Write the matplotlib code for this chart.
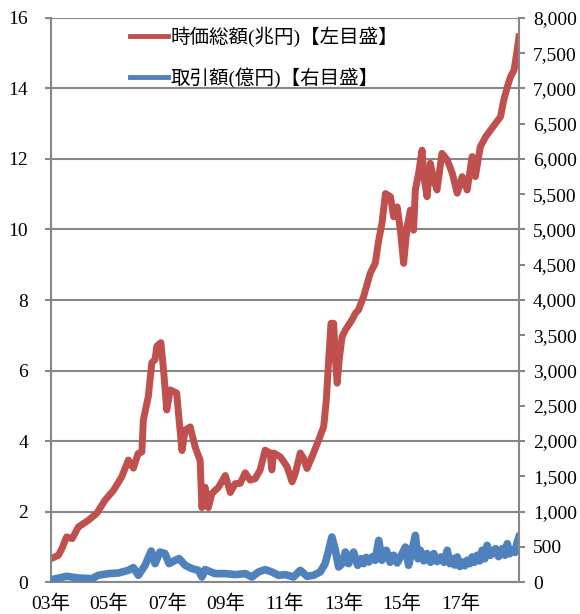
import matplotlib
matplotlib.use("Agg")
import matplotlib.pyplot as plt
from matplotlib.lines import Line2D

plt.rcParams["font.family"] = ["Liberation Serif", "Noto Sans CJK JP"]

# 時価総額 (兆円), left axis; x in decimal years
cap_years = [
    2003.04, 2003.27, 2003.39, 2003.55, 2003.74, 2003.95, 2004.29, 2004.58,
    2004.86, 2005.15, 2005.43, 2005.66, 2005.83, 2005.99, 2006.12, 2006.17,
    2006.34, 2006.46, 2006.57, 2006.63, 2006.77, 2006.86, 2006.97, 2007.09,
    2007.31, 2007.37, 2007.49, 2007.60, 2007.77, 2007.94, 2008.11, 2008.17,
    2008.28, 2008.39, 2008.51, 2008.74, 2008.97, 2009.14, 2009.31, 2009.48,
    2009.65, 2009.82, 2009.99, 2010.16, 2010.33, 2010.50, 2010.56, 2010.62,
    2010.85, 2011.08, 2011.25, 2011.36, 2011.53, 2011.64, 2011.76, 2011.93,
    2012.16, 2012.33, 2012.42, 2012.50, 2012.58, 2012.67, 2012.73, 2012.79,
    2012.87, 2012.96, 2013.07, 2013.30, 2013.41, 2013.52, 2013.69, 2013.92,
    2014.09, 2014.21, 2014.32, 2014.44, 2014.61, 2014.72, 2014.84, 2014.95,
    2015.06, 2015.18, 2015.29, 2015.40, 2015.46, 2015.57, 2015.69, 2015.75,
    2015.86, 2015.97, 2016.09, 2016.20, 2016.37, 2016.55, 2016.72, 2016.89,
    2017.06, 2017.23, 2017.40, 2017.51, 2017.68, 2017.86, 2018.03, 2018.20,
    2018.37, 2018.48, 2018.60, 2018.71, 2018.83, 2018.92, 2019.00,
]
cap_vals = [
    0.67, 0.76, 0.95, 1.28, 1.23, 1.56, 1.75, 1.95,
    2.32, 2.60, 2.98, 3.46, 3.23, 3.64, 3.69, 4.59,
    5.26, 6.22, 6.31, 6.69, 6.79, 6.02, 4.88, 5.45,
    5.36, 4.79, 3.73, 4.31, 4.40, 3.83, 3.45, 2.11,
    2.69, 2.11, 2.51, 2.69, 3.02, 2.54, 2.79, 2.80,
    3.10, 2.89, 2.93, 3.18, 3.74, 3.66, 3.18, 3.66,
    3.55, 3.27, 2.84, 3.08, 3.66, 3.51, 3.22, 3.55,
    4.03, 4.41, 5.16, 6.30, 7.34, 7.34, 6.30, 5.64,
    6.39, 6.96, 7.15, 7.44, 7.62, 7.72, 8.09, 8.76,
    9.04, 9.70, 10.17, 11.02, 10.93, 10.36, 10.64, 9.98,
    9.04, 10.08, 10.55, 9.98, 11.12, 11.59, 12.25, 11.50,
    10.93, 11.88, 11.41, 11.12, 12.16, 11.97, 11.60, 11.03,
    11.50, 11.12, 12.07, 11.50, 12.35, 12.63, 12.82, 13.01,
    13.20, 13.67, 14.04, 14.33, 14.52, 14.99, 15.46,
]

# 取引額 (億円), right axis
vol_years = [
    2003.04, 2003.55, 2003.95, 2004.41, 2004.63, 2004.98, 2005.32, 2005.66,
    2005.83, 2006.00, 2006.23, 2006.44, 2006.57, 2006.74, 2006.91, 2007.05,
    2007.26, 2007.39, 2007.60, 2007.83, 2008.05, 2008.17, 2008.28, 2008.62,
    2008.97, 2009.31, 2009.65, 2009.88, 2010.10, 2010.33, 2010.56, 2010.79,
    2011.02, 2011.30, 2011.53, 2011.76, 2011.98, 2012.21, 2012.38, 2012.50,
    2012.61, 2012.73, 2012.84, 2012.96, 2013.07, 2013.18, 2013.35, 2013.49,
    2013.60, 2013.69, 2013.78, 2013.87, 2014.00, 2014.09, 2014.21, 2014.32,
    2014.47, 2014.60, 2014.72, 2014.84, 2014.95, 2015.12, 2015.23, 2015.46,
    2015.55, 2015.63, 2015.75, 2015.86, 2015.98, 2016.09, 2016.20, 2016.32,
    2016.44, 2016.55, 2016.64, 2016.72, 2016.80, 2016.89, 2016.98, 2017.06,
    2017.15, 2017.23, 2017.32, 2017.40, 2017.48, 2017.57, 2017.66, 2017.74,
    2017.83, 2017.91, 2018.03, 2018.12, 2018.20, 2018.30, 2018.43, 2018.52,
    2018.60, 2018.68, 2018.77, 2018.86, 2018.94, 2019.00,
]
vol_vals = [
    34, 81, 57, 48, 95, 119, 128, 166,
    204, 95, 237, 440, 261, 425, 403, 261,
    308, 332, 237, 190, 166, 71, 176, 119,
    119, 105, 119, 71, 142, 176, 142, 95,
    105, 71, 166, 81, 95, 142, 261, 450,
    638, 450, 213, 261, 425, 261, 425, 237,
    330, 261, 350, 284, 360, 308, 591, 308,
    450, 280, 379, 270, 355, 496, 237, 662,
    330, 450, 300, 403, 280, 403, 290, 355,
    280, 450, 260, 332, 240, 355, 220, 284,
    230, 308, 260, 355, 280, 379, 300, 450,
    330, 520, 379, 430, 474, 360, 474, 380,
    544, 400, 450, 420, 567, 638,
]

x_ticks = [2003, 2005, 2007, 2009, 2011, 2013, 2015, 2017]
x_labels = ["03年", "05年", "07年", "09年", "11年", "13年", "15年", "17年"]
left_ticks = [0, 2, 4, 6, 8, 10, 12, 14, 16]
right_ticks = list(range(0, 8001, 500))
right_labels = [f"{v:,}" for v in right_ticks]

RED = "#C0504D"
BLUE = "#4F81BD"
GRAY = "#878787"

fig = plt.figure(figsize=(5.8, 6.14), dpi=100)
ax = fig.add_axes([0.0871, 0.0521, 0.8077, 0.9186])
ax2 = ax.twinx()

ax.plot(cap_years, cap_vals, color=RED, lw=5, solid_joinstyle="round")
ax2.plot(vol_years, vol_vals, color=BLUE, lw=5.5, solid_joinstyle="round")

ax.set_xlim(2003, 2019)
ax.set_ylim(0, 16)
ax2.set_ylim(0, 8000)

ax.set_xticks(x_ticks)
ax.set_xticklabels(x_labels)
ax.set_yticks(left_ticks)
ax.set_yticklabels([str(v) for v in left_ticks])
ax2.set_yticks(right_ticks)
ax2.set_yticklabels(right_labels)

ax.yaxis.grid(True, color=GRAY, lw=1.5)
ax.set_axisbelow(True)

for s in ["top", "right"]:
    ax.spines[s].set_visible(False)
for s in ["left", "bottom"]:
    ax.spines[s].set_color(GRAY)
    ax.spines[s].set_linewidth(1.5)
for s in ["top", "left", "bottom"]:
    ax2.spines[s].set_visible(False)
ax2.spines["right"].set_color(GRAY)
ax2.spines["right"].set_linewidth(1.5)

ax.tick_params(axis="x", length=0, pad=9, labelsize=14)
ax.tick_params(axis="y", length=4, width=1.5, color=GRAY, pad=12, labelsize=14)
ax2.tick_params(axis="y", length=4, width=1.5, color=GRAY, pad=6, labelsize=14)

handles = [
    Line2D([], [], color=RED, lw=3.5),
    Line2D([], [], color=BLUE, lw=3.5),
]
labels = ["時価総額(兆円)【左目盛】", "取引額(億円)【右目盛】"]
fig.legend(handles, labels, loc="upper left", bbox_to_anchor=(0.224, 0.957),
           frameon=False, fontsize=14, handlelength=1.95, handletextpad=0.12,
           labelspacing=1.05, borderpad=0, borderaxespad=0)

fig.savefig("out.png", dpi=100)
